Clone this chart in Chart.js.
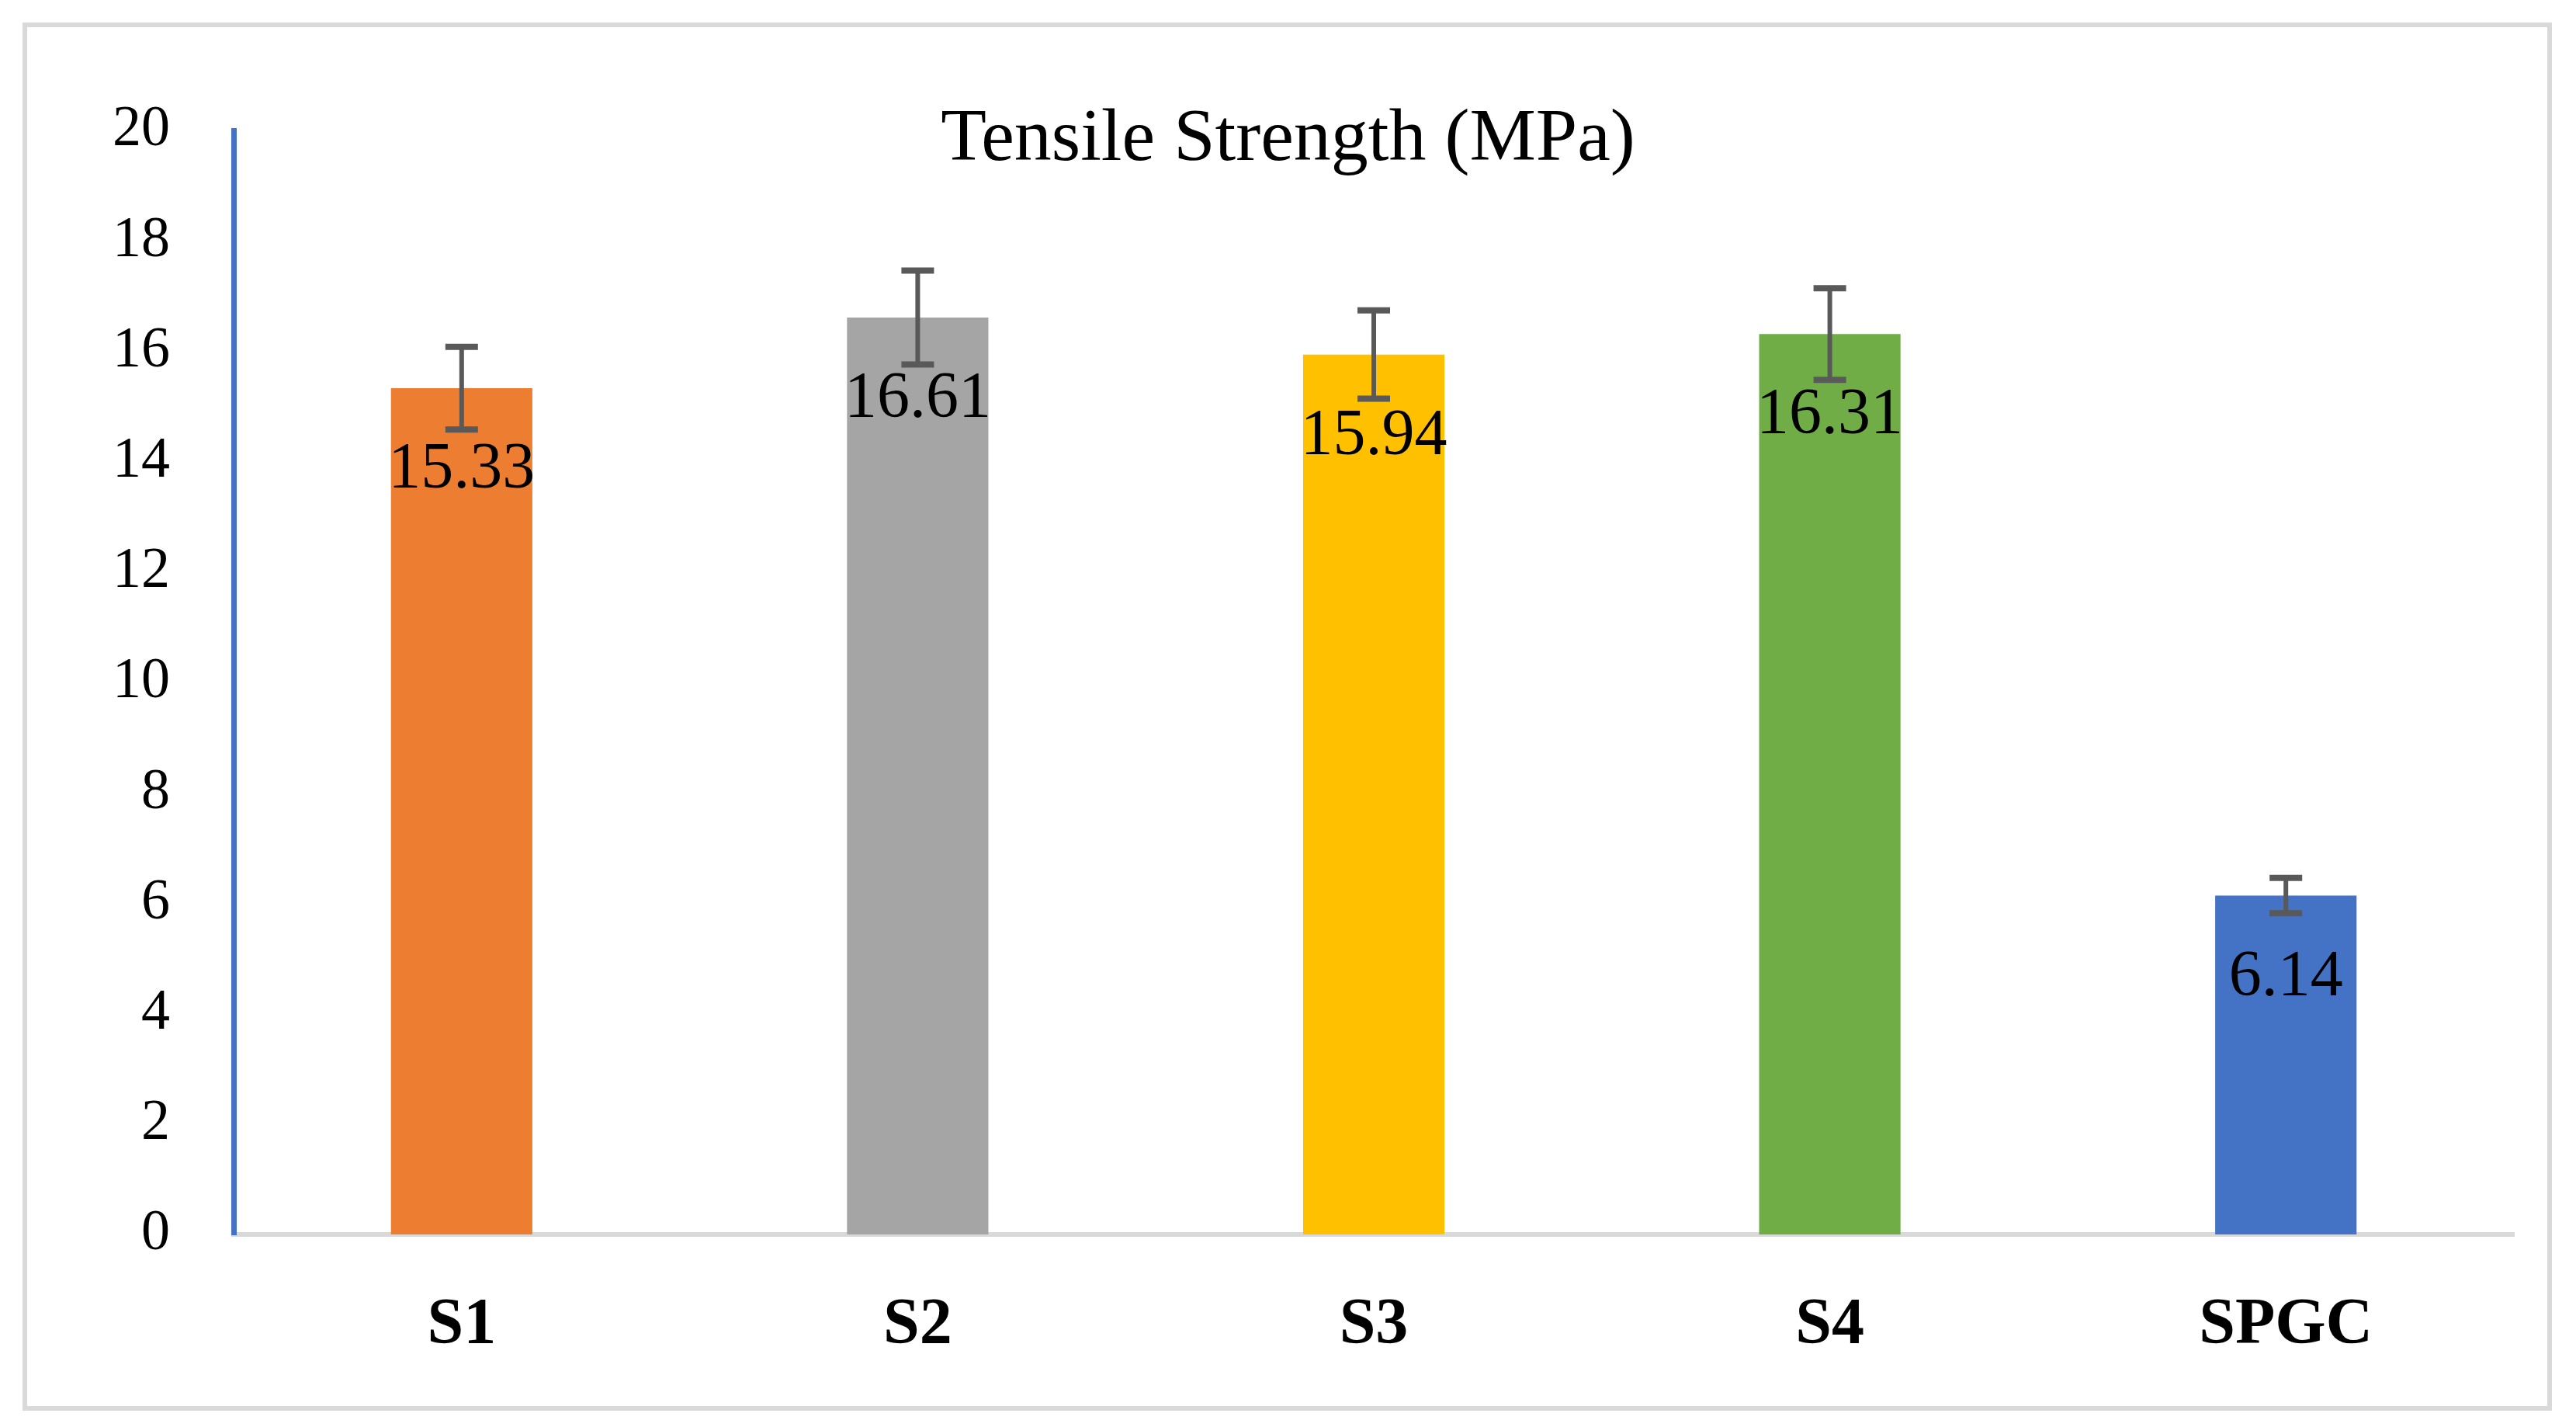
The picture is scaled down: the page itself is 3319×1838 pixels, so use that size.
<!DOCTYPE html>
<html>
<head>
<meta charset="utf-8">
<script src="https://cdn.jsdelivr.net/npm/chart.js@4"></script>
<style>
    html, body { margin: 0; padding: 0; background: #fff; }
    #frame {
        position: absolute; left: 29px; top: 29px; width: 3259px; height: 1788px;
        border: 6px solid #d9d9d9; box-sizing: border-box;
    }
    #chart { position: absolute; left: 0; top: 0; }
</style>
</head>
<body>
<div id="frame"></div>
<canvas id="chart" width="3319" height="1838"></canvas>
<script>
const categories = ['S1', 'S2', 'S3', 'S4', 'SPGC']
const strength = [15.33, 16.61, 15.94, 16.31, 6.14]
const errors = [0.75, 0.85, 0.8, 0.83, 0.32]
const barColors = ['#ed7d31', '#a5a5a5', '#ffc000', '#70ad47', '#4472c4']
const titleText = 'Tensile Strength (MPa)'

const serif = '"Liberation Serif", "DejaVu Serif", serif'

// error bars + value labels drawn from the scales
const extras = {
    id: 'extras',
    afterDatasetsDraw(chart) {
        const ctx = chart.ctx
        const y = chart.scales.y
        const meta = chart.getDatasetMeta(0)
        ctx.save()
        meta.data.forEach((bar, i) => {
            const hi = y.getPixelForValue(strength[i] + errors[i])
            const lo = y.getPixelForValue(strength[i] - errors[i])
            ctx.strokeStyle = '#595959'
            ctx.lineWidth = 6
            ctx.beginPath()
            ctx.moveTo(bar.x, hi)
            ctx.lineTo(bar.x, lo)
            ctx.stroke()
            ctx.lineWidth = 8
            ctx.beginPath()
            ctx.moveTo(bar.x - 21, hi)
            ctx.lineTo(bar.x + 21, hi)
            ctx.moveTo(bar.x - 21, lo)
            ctx.lineTo(bar.x + 21, lo)
            ctx.stroke()

            ctx.fillStyle = '#000'
            ctx.font = '84px ' + serif
            ctx.textAlign = 'center'
            ctx.textBaseline = 'middle'
            ctx.fillText(strength[i].toFixed(2), bar.x, bar.y + 106)
        })
        // title sits over the top of the plot
        ctx.font = '96px ' + serif
        ctx.textAlign = 'center'
        ctx.textBaseline = 'alphabetic'
        ctx.fillText(titleText, chart.width / 2, chart.chartArea.top + 38)
        ctx.restore()
    }
}

const ctx = document.querySelector('#chart').getContext('2d')
new Chart(ctx, {
    type: 'bar',
    data: {
        labels: categories,
        datasets: [{
            label: titleText,
            data: strength,
            backgroundColor: barColors,
            borderWidth: 0,
            barPercentage: 0.31,
            categoryPercentage: 1
        }]
    },
    options: {
        responsive: false,
        animation: false,
        layout: { padding: { left: 40, right: 80, top: 168, bottom: 58 } },
        plugins: {
            legend: { display: false },
            title: { display: false },
            tooltip: { enabled: false }
        },
        scales: {
            x: {
                grid: { display: false, drawTicks: false },
                border: { color: '#d9d9d9', width: 6 },
                ticks: {
                    color: '#000',
                    padding: 76,
                    font: { family: serif, size: 84, weight: 'bold', lineHeight: 1 }
                },
                afterFit(scale) { scale.height = 190 }
            },
            y: {
                min: 0,
                max: 20,
                grid: { display: false, drawTicks: false },
                border: { color: '#4472c4', width: 7 },
                ticks: {
                    stepSize: 2,
                    color: '#000',
                    padding: 82,
                    font: { family: serif, size: 74, lineHeight: 1 }
                },
                afterFit(scale) { scale.width = 261 }
            }
        }
    },
    plugins: [extras]
})
</script>
</body>
</html>
